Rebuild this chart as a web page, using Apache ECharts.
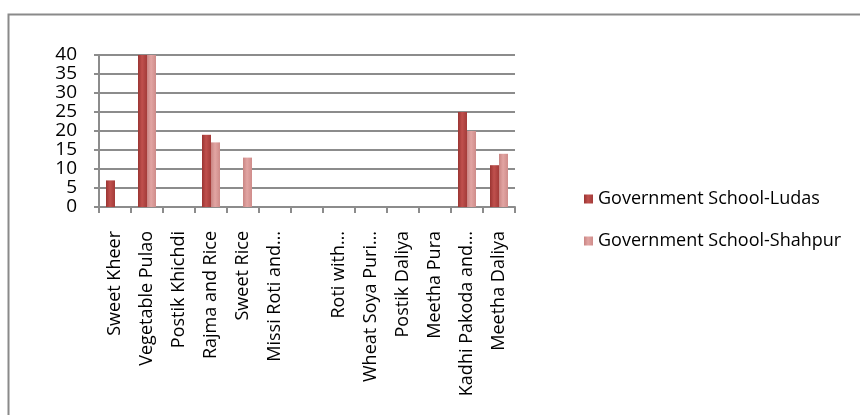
<!DOCTYPE html>
<html>
<head>
<meta charset="utf-8">
<script src="https://cdn.jsdelivr.net/npm/echarts@6/dist/echarts.min.js"></script>
<style>
html,body{margin:0;padding:0;background:#fff;}
#chart{width:860px;height:415px;}
</style>
</head>
<body>
<div id="chart"></div>
<script>
const categories = ["Sweet Kheer","Vegetable Pulao","Postik Khichdi","Rajma and Rice","Sweet Rice","Missi Roti and\u2026","","Roti with\u2026","Wheat Soya Puri\u2026","Postik Daliya","Meetha Pura","Kadhi Pakoda and\u2026","Meetha Daliya"];
const ludas   = [7,40,0,19,0,0,0,0,0,0,0,25,11];
const shahpur = [0,40,0,17,13,0,0,0,0,0,0,20,14];
const seriesNames = ["Government School-Ludas","Government School-Shahpur"];
const yTicks = {min:0,max:40,interval:5};

const FONT = "Open Sans";
const chart = echarts.init(document.getElementById('chart'));
function grad(c1,c2,c3){
  return new echarts.graphic.LinearGradient(0,0,1,0,[
    {offset:0,color:c1},{offset:0.45,color:c2},{offset:1,color:c3}]);
}
chart.setOption({
  animation:false,
  textStyle:{fontFamily:FONT},
  graphic:[{type:'rect',left:6,top:12,shape:{width:900,height:500},
    style:{fill:'none',stroke:'#8a8a8a',lineWidth:2},silent:true}],
  legend:{
    orient:'vertical',left:579,top:185,itemGap:24,
    itemWidth:9,itemHeight:9,icon:'rect',
    textStyle:{fontFamily:FONT,fontSize:18,color:'#000'},
    data:seriesNames
  },
  grid:{left:99,right:345,top:55,bottom:208},
  xAxis:{
    type:'category',data:categories,
    axisLine:{show:true,lineStyle:{color:'#8c8c8c',width:2}},
    axisTick:{show:true,length:6,lineStyle:{color:'#8c8c8c',width:2}},
    axisLabel:{interval:0,rotate:90,margin:24,color:'#000',fontSize:18,fontFamily:FONT}
  },
  yAxis:{
    type:'value',min:yTicks.min,max:yTicks.max,interval:yTicks.interval,
    axisLine:{show:true,lineStyle:{color:'#8c8c8c',width:2}},
    axisTick:{show:true,length:5,lineStyle:{color:'#8c8c8c',width:2}},
    splitLine:{lineStyle:{color:'#8c8c8c',width:2}},
    axisLabel:{color:'#000',fontSize:19,margin:22,fontFamily:FONT}
  },
  series:[
    {name:seriesNames[0],type:'bar',data:ludas,barWidth:9,barGap:'0%',
     itemStyle:{color:grad('#9a3432','#c0504d','#a33b39')}},
    {name:seriesNames[1],type:'bar',data:shahpur,barWidth:9,
     itemStyle:{color:grad('#c98583','#e2a5a3','#cf8c8a')}}
  ]
});
</script>
</body>
</html>
